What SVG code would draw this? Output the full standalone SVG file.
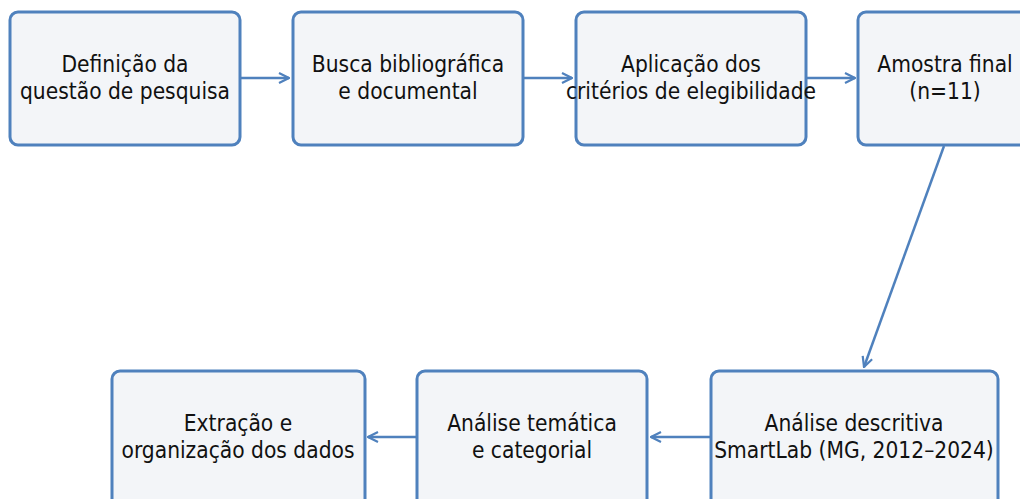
<svg xmlns="http://www.w3.org/2000/svg" width="1020" height="499" viewBox="0 0 1020 499">
<style>
.box{fill:#f3f5f8;stroke:#4f81bd;stroke-width:3}
.lbl{font-family:"DejaVu Sans Condensed","DejaVu Sans",sans-serif;font-size:23px;fill:#111;text-anchor:middle}
.edge{stroke:#4f81bd;stroke-width:2.5;fill:none}
</style>
<defs>
<marker id="ah" viewBox="0 0 12 12" refX="11" refY="6" markerWidth="12" markerHeight="12" markerUnits="userSpaceOnUse" orient="auto">
<path d="M1,1 L11,6 L1,11" fill="none" stroke="#4f81bd" stroke-width="2.2"/>
</marker>
</defs>
<g id="connectors">
<line class="edge" x1="241" y1="78" x2="289" y2="78" marker-end="url(#ah)"/>
<line class="edge" x1="524" y1="78" x2="572" y2="78" marker-end="url(#ah)"/>
<line class="edge" x1="807" y1="78" x2="855" y2="78" marker-end="url(#ah)"/>
<line class="edge" x1="944" y1="146" x2="864" y2="367" marker-end="url(#ah)"/>
<line class="edge" x1="710" y1="437" x2="651" y2="437" marker-end="url(#ah)"/>
<line class="edge" x1="416" y1="437" x2="368" y2="437" marker-end="url(#ah)"/>
</g>
<g id="n1"><rect class="box" x="10" y="12" width="230" height="133" rx="8"/>
<g transform="translate(125,0) scale(0.98,1)"><text class="lbl" x="0" y="72.5">Definição da</text><text class="lbl" x="0" y="99.5">questão de pesquisa</text></g></g>
<g id="n2"><rect class="box" x="293" y="12" width="230" height="133" rx="8"/>
<g transform="translate(408,0) scale(0.98,1)"><text class="lbl" x="0" y="72.5">Busca bibliográfica</text><text class="lbl" x="0" y="99.5">e documental</text></g></g>
<g id="n3"><rect class="box" x="576" y="12" width="230" height="133" rx="8"/>
<g transform="translate(691,0) scale(0.98,1)"><text class="lbl" x="0" y="72.5">Aplicação dos</text><text class="lbl" x="0" y="99.5">critérios de elegibilidade</text></g></g>
<g id="n4"><rect class="box" x="858" y="12" width="174" height="133" rx="8"/>
<g transform="translate(945,0) scale(0.98,1)"><text class="lbl" x="0" y="72.5">Amostra final</text><text class="lbl" x="0" y="99.5">(n=11)</text></g></g>
<g id="n5"><rect class="box" x="711" y="371" width="287" height="140" rx="8"/>
<g transform="translate(854,0) scale(0.98,1)"><text class="lbl" x="0" y="431.5">Análise descritiva</text><text class="lbl" x="0" y="458.5">SmartLab (MG, 2012–2024)</text></g></g>
<g id="n6"><rect class="box" x="417" y="371" width="230" height="140" rx="8"/>
<g transform="translate(532,0) scale(0.98,1)"><text class="lbl" x="0" y="431.5">Análise temática</text><text class="lbl" x="0" y="458.5">e categorial</text></g></g>
<g id="n7"><rect class="box" x="112" y="371" width="253" height="140" rx="8"/>
<g transform="translate(238,0) scale(0.98,1)"><text class="lbl" x="0" y="431.5">Extração e</text><text class="lbl" x="0" y="458.5">organização dos dados</text></g></g>
</svg>
